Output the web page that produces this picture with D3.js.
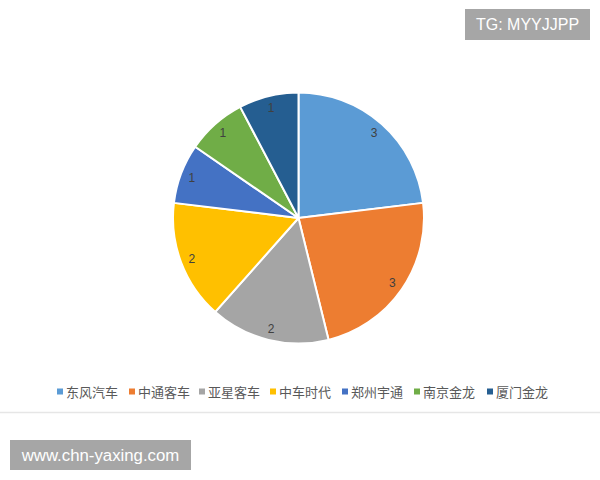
<!DOCTYPE html>
<html><head><meta charset="utf-8">
<script src="https://cdn.jsdelivr.net/npm/d3@7"></script>
<style>body{margin:0;background:#fff}svg{display:block}</style>
</head><body>
<script>
const categories = ["东风汽车","中通客车","亚星客车","中车时代","郑州宇通","南京金龙","厦门金龙"];
const values = [3,3,2,2,1,1,1];
const colors = ["#5B9BD5","#ED7D31","#A5A5A5","#FFC000","#4472C4","#70AD47","#255E91"];

const W=600,H=480, cx=298.5, cy=218, R=125.5;
const svg=d3.select("body").append("svg").attr("width",W).attr("height",H);
svg.append("rect").attr("width",W).attr("height",H).attr("fill","#fff");

const data=categories.map((c,i)=>({name:c,value:values[i],color:colors[i]}));
const pie=d3.pie().value(d=>d.value).sort(null);
const arcs=pie(data);
const arc=d3.arc().innerRadius(0).outerRadius(R);
const labelArc=d3.arc().innerRadius(114).outerRadius(114);
const g=svg.append("g").attr("transform",`translate(${cx},${cy})`);
g.selectAll("path").data(arcs).join("path")
  .attr("d",arc).attr("fill",d=>d.data.color)
  .attr("stroke","#fff").attr("stroke-width",2).attr("stroke-linejoin","round");
g.selectAll("text").data(arcs).join("text")
  .attr("transform",d=>`translate(${labelArc.centroid(d)})`)
  .attr("text-anchor","middle").attr("dy","0.35em")
  .attr("font-family","Liberation Sans, Arial, sans-serif").attr("font-size",12)
  .attr("fill","#404040").text(d=>d.data.value);

// legend
const legX=[57,129,199,270,342,414,487];
const lg=svg.append("g");
data.forEach((d,i)=>{
  lg.append("rect").attr("x",legX[i]).attr("y",388.5).attr("width",6).attr("height",6).attr("fill",d.color);
  lg.append("text").attr("x",legX[i]+9).attr("y",396.5)
    .attr("font-family","Noto Sans CJK SC, sans-serif").attr("font-size",13)
    .attr("fill","#595959").text(d.name);
});
svg.append("line").attr("x1",0).attr("x2",W).attr("y1",412.5).attr("y2",412.5)
  .attr("stroke","#e6e6e6").attr("stroke-width",1.5);

// watermarks
svg.append("rect").attr("x",465).attr("y",9).attr("width",125).attr("height",31).attr("fill","#a6a6a6");
svg.append("text").attr("x",527.5).attr("y",30).attr("text-anchor","middle")
  .attr("font-family","Liberation Sans, Arial, sans-serif").attr("font-size",16).attr("fill","#fff").text("TG: MYYJJPP");
svg.append("rect").attr("x",10).attr("y",440).attr("width",181).attr("height",30).attr("fill","#a6a6a6");
svg.append("text").attr("x",100.5).attr("y",461).attr("text-anchor","middle")
  .attr("font-family","Liberation Sans, Arial, sans-serif").attr("font-size",16.8).attr("fill","#fff").text("www.chn-yaxing.com");
</script>
</body></html>
